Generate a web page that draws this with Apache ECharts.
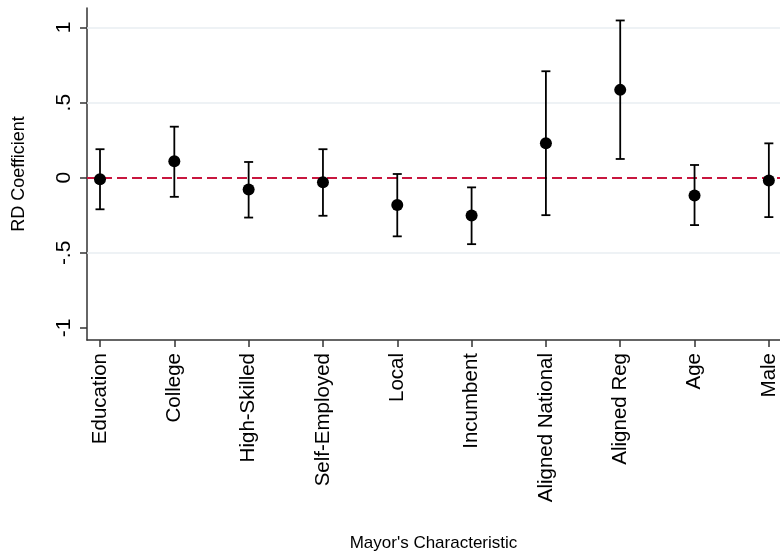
<!DOCTYPE html>
<html><head><meta charset="utf-8">
<script src="https://cdn.jsdelivr.net/npm/echarts@6/dist/echarts.min.js"></script>
<style>html,body{margin:0;padding:0;background:#fff}#c{width:780px;height:554px}</style>
</head><body><div id="c"></div>
<script>
var categories = ["Education","College","High-Skilled","Self-Employed","Local","Incumbent","Aligned National","Aligned Reg","Age","Male"];
var coef  = [-0.010, 0.110, -0.078, -0.030, -0.182, -0.251, 0.229, 0.585, -0.118, -0.018];
var upper = [ 0.190, 0.340,  0.105,  0.190,  0.025, -0.064, 0.709, 1.047,  0.085,  0.229];
var lower = [-0.210,-0.127, -0.265, -0.253, -0.390, -0.442,-0.249, 0.125, -0.315, -0.262];
var yTicks = [-1, -0.5, 0, 0.5, 1];
var yTickLabels = ["-1", "-.5", "0", ".5", "1"];
var gridLines = [-0.5, 0.5, 1];

var idx = categories.map(function(_, i){ return i; });
var font = "'Liberation Sans', Arial, sans-serif";
var chart = echarts.init(document.getElementById('c'), null, {renderer:'canvas'});
chart.setOption({
  animation:false,
  backgroundColor:'#fff',
  grid:{left:87, right:0, top:8, bottom:214, containLabel:false, outerBoundsMode:'none'},
  xAxis:{
    type:'value', min:-0.175, max:9.15,
    name:"Mayor's Characteristic", nameLocation:'middle', nameGap:195, nameMoveOverlap:false,
    nameTextStyle:{fontFamily:font, fontSize:17, color:'#000'},
    axisLine:{show:true, onZero:false, lineStyle:{color:'#333', width:1.5}},
    axisTick:{show:true, length:7, customValues:idx, lineStyle:{color:'#333', width:1.5}},
    axisLabel:{show:true, rotate:90, margin:13, customValues:idx, fontFamily:font, fontSize:20.5, color:'#000',
      hideOverlap:false,
      formatter:function(v){ return categories[Math.round(v)]; }},
    splitLine:{show:false}
  },
  yAxis:{
    type:'value', min:-1.08, max:1.13,
    name:'RD Coefficient', nameLocation:'middle', nameGap:59, nameMoveOverlap:false,
    nameTextStyle:{fontFamily:font, fontSize:18, color:'#000'},
    axisLine:{show:true, onZero:false, lineStyle:{color:'#333', width:1.5}},
    axisTick:{show:true, length:7, customValues:yTicks, lineStyle:{color:'#333', width:1.5}},
    axisLabel:{show:true, rotate:90, margin:12, customValues:yTicks, fontFamily:font, fontSize:21, color:'#000',
      formatter:function(v){ var k = yTicks.indexOf(v); return k>=0 ? yTickLabels[k] : ''; }},
    splitLine:{show:false}
  },
  series:[
    {
      type:'line', data:[], silent:true,
      markLine:{silent:true, symbol:'none', label:{show:false},
        lineStyle:{color:'#e8eef2', width:1.5, type:'solid'},
        data: gridLines.map(function(v){ return {yAxis:v}; })}
    },
    {
      type:'line', data:[], silent:true,
      markLine:{silent:true, symbol:'none', label:{show:false}, z:3,
        lineStyle:{color:'#c8163e', width:1.8, type:[10,5]},
        data:[{yAxis:0}]}
    },
    {
      type:'custom', z:5,
      data: idx.map(function(i){ return [i, lower[i], upper[i]]; }),
      renderItem:function(params, api){
        var x = api.value(0);
        var lo = api.coord([x, api.value(1)]);
        var hi = api.coord([x, api.value(2)]);
        var w = 4.5;
        var st = {stroke:'#000', lineWidth:1.8};
        return {type:'group', children:[
          {type:'line', shape:{x1:lo[0], y1:lo[1], x2:hi[0], y2:hi[1]}, style:st},
          {type:'line', shape:{x1:lo[0]-w, y1:lo[1], x2:lo[0]+w, y2:lo[1]}, style:st},
          {type:'line', shape:{x1:hi[0]-w, y1:hi[1], x2:hi[0]+w, y2:hi[1]}, style:st}
        ]};
      }
    },
    {
      type:'scatter', z:6, symbol:'circle', symbolSize:12,
      itemStyle:{color:'#000', opacity:1},
      data: idx.map(function(i){ return [i, coef[i]]; })
    }
  ]
});
</script></body></html>
